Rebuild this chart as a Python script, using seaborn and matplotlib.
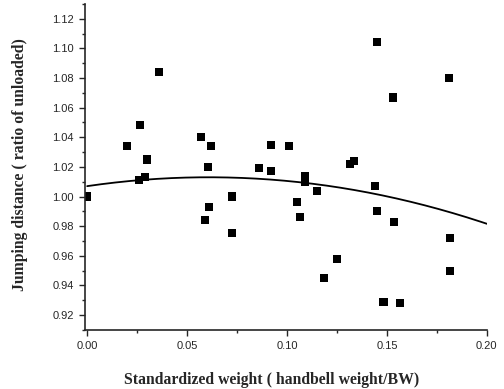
import numpy as np
import pandas as pd
import seaborn as sns
import matplotlib
matplotlib.use("Agg")
import matplotlib.pyplot as plt
from matplotlib.ticker import MultipleLocator

# Datos
peso = [0.000, 0.020, 0.0265, 0.026, 0.029, 0.030, 0.036, 0.057, 0.062, 0.0605,
        0.0725, 0.086, 0.059, 0.061, 0.0725, 0.145, 0.181, 0.153, 0.092, 0.101,
        0.092, 0.1335, 0.1317, 0.109, 0.109, 0.1438, 0.115, 0.105, 0.1067, 0.145,
        0.1535, 0.1817, 0.125, 0.1187, 0.1817, 0.1483, 0.1565]
distancia = [1.000, 1.034, 1.048, 1.011, 1.013, 1.025, 1.084, 1.040, 1.034, 1.020,
             1.000, 1.019, 0.984, 0.993, 0.9755, 1.104, 1.080, 1.0668, 1.035, 1.034,
             1.017, 1.024, 1.022, 1.0135, 1.010, 1.007, 1.0036, 0.9964, 0.9863, 0.990,
             0.9827, 0.972, 0.958, 0.945, 0.950, 0.929, 0.928]

# Coeficientes de la curva de ajuste (a + b*x + c*x^2)
coef_curva = [1.007, 0.197, -1.62]

xticks = [0.00, 0.05, 0.10, 0.15, 0.20]
yticks = [0.92, 0.94, 0.96, 0.98, 1.00, 1.02, 1.04, 1.06, 1.08, 1.10, 1.12]

df = pd.DataFrame({"peso": peso, "distancia": distancia})
xs = np.linspace(0, 0.2, 200)
ajuste = pd.DataFrame({"peso": xs,
                       "distancia": np.polyval(coef_curva[::-1], xs)})

sns.set_style("ticks")
fig = plt.figure(figsize=(5.04, 3.89), dpi=100)
ax = fig.add_axes([0.169, 0.152, 0.797, 0.838])

sns.scatterplot(data=df, x="peso", y="distancia", marker="s", s=34,
                color="black", edgecolor="none", ax=ax)
sns.lineplot(data=ajuste, x="peso", y="distancia", color="black",
             linewidth=1.3, ax=ax)

ax.set_xlim(-0.001, 0.2)
ax.set_ylim(0.91, 1.13)
ax.xaxis.set_minor_locator(MultipleLocator(0.025))
ax.yaxis.set_minor_locator(MultipleLocator(0.01))
ax.set_xticks(xticks)
ax.set_xticklabels([f"{v:.2f}" for v in xticks])
ax.set_yticks(yticks)
ax.set_yticklabels([f"{v:.2f}" for v in yticks])
ax.tick_params(which="major", direction="out", length=4, width=1,
               labelsize=8, pad=4)
ax.tick_params(which="minor", direction="out", length=2.5, width=1)
for lab in ax.get_xticklabels() + ax.get_yticklabels():
    lab.set_family("Liberation Sans")
for s in ["top", "right"]:
    ax.spines[s].set_visible(False)
for s in ["left", "bottom"]:
    ax.spines[s].set_linewidth(1.2)

ax.set_xlabel("Standardized weight ( handbell weight/BW)", family="Liberation Serif",
              fontweight="bold", fontsize=11.3)
ax.set_ylabel("Jumping distance ( ratio of unloaded)", family="Liberation Serif",
              fontweight="bold", fontsize=11.3)
ax.xaxis.set_label_coords(0.464, -0.129)
ax.yaxis.set_label_coords(-0.142, 0.506)

fig.savefig("out.png", dpi=100)
